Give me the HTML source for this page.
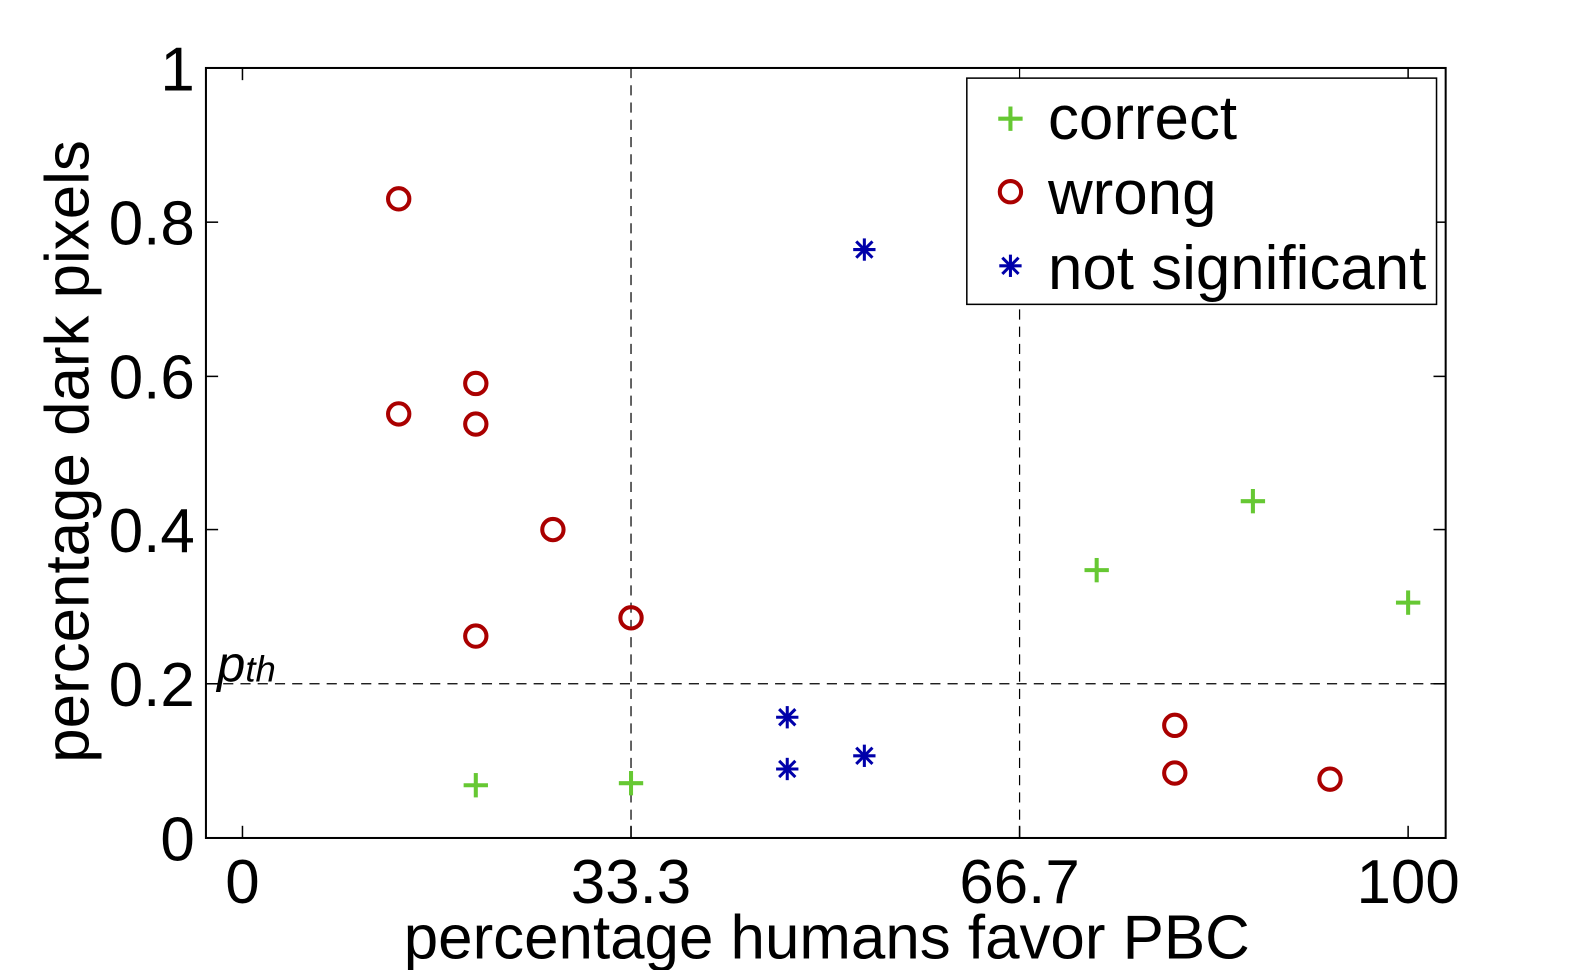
<!DOCTYPE html>
<html><head><style>body{margin:0;background:#fff}svg{display:block}</style></head><body>
<svg width="1590" height="970" xmlns="http://www.w3.org/2000/svg" font-family="Liberation Sans, sans-serif">
<defs>
<g id="c"><circle r="10.5" fill="none" stroke="#aa0000" stroke-width="4"/></g>
<g id="p" stroke="#66c833" stroke-width="4"><line x1="-12" y1="0" x2="12" y2="0"/><line x1="0" y1="-12" x2="0" y2="12"/></g>
<g id="s" stroke="#0000aa" stroke-width="3"><line x1="-11" y1="0" x2="11" y2="0"/><line x1="0" y1="-11" x2="0" y2="11"/><line x1="-8" y1="-8" x2="8" y2="8"/><line x1="-8" y1="8" x2="8" y2="-8"/></g>
</defs>
<g transform="scale(1.0145)">
<g stroke="#000" stroke-width="1.2" stroke-dasharray="10,7" fill="none">
<line x1="622" y1="67" x2="622" y2="826"/>
<line x1="1005" y1="67" x2="1005" y2="826"/>
<line x1="203" y1="674" x2="1425" y2="674"/>
</g>
<g stroke="#000" stroke-width="1.5">
<line x1="239" y1="826" x2="239" y2="814"/><line x1="239" y1="67" x2="239" y2="79"/>
<line x1="622" y1="826" x2="622" y2="814"/><line x1="1005" y1="826" x2="1005" y2="814"/>
<line x1="1388" y1="826" x2="1388" y2="814"/><line x1="1388" y1="67" x2="1388" y2="79"/>
<line x1="203" y1="219" x2="215" y2="219"/><line x1="203" y1="371" x2="215" y2="371"/><line x1="203" y1="522" x2="215" y2="522"/><line x1="203" y1="674" x2="215" y2="674"/>
<line x1="1425" y1="219" x2="1413" y2="219"/><line x1="1425" y1="371" x2="1413" y2="371"/><line x1="1425" y1="522" x2="1413" y2="522"/><line x1="1425" y1="674" x2="1413" y2="674"/>
</g>
<rect x="203" y="67" width="1222" height="759" fill="none" stroke="#000" stroke-width="2"/>
<g font-size="61" text-anchor="end">
<text x="192" y="89">1</text><text x="192" y="241">0.8</text><text x="192" y="393">0.6</text><text x="192" y="544">0.4</text><text x="192" y="696">0.2</text><text x="192" y="848">0</text>
</g>
<g font-size="61" text-anchor="middle">
<text x="239" y="890">0</text><text x="622" y="890">33.3</text><text x="1005" y="890">66.7</text><text x="1388" y="890">100</text>
<text x="815" y="945">percentage humans favor PBC</text>
<text transform="translate(87,445) rotate(-90)">percentage dark pixels</text>
</g>
<text x="214" y="672" font-size="50" font-style="italic">p<tspan font-size="36">th</tspan></text>
<use href="#c" x="393" y="196"/><use href="#c" x="393" y="408"/><use href="#c" x="469" y="378"/><use href="#c" x="469" y="418"/><use href="#c" x="545" y="522"/><use href="#c" x="469" y="627"/><use href="#c" x="622" y="609"/><use href="#c" x="1158" y="715"/><use href="#c" x="1158" y="762"/><use href="#c" x="1311" y="768"/>
<use href="#p" x="469" y="774"/><use href="#p" x="622" y="772"/><use href="#p" x="1081" y="562"/><use href="#p" x="1235" y="494"/><use href="#p" x="1388" y="594"/>
<use href="#s" x="852" y="246"/><use href="#s" x="776" y="707"/><use href="#s" x="776" y="758"/><use href="#s" x="852" y="745"/>
<rect x="953" y="77" width="463" height="223" fill="#fff" stroke="#000" stroke-width="1.5"/>
<use href="#p" x="996" y="117"/><use href="#c" x="996" y="189"/><use href="#s" x="996" y="262"/>
<g font-size="61"><text x="1033" y="137">correct</text><text x="1033" y="211">wrong</text><text x="1033" y="285">not significant</text></g>
</g>
</svg>
</body></html>
